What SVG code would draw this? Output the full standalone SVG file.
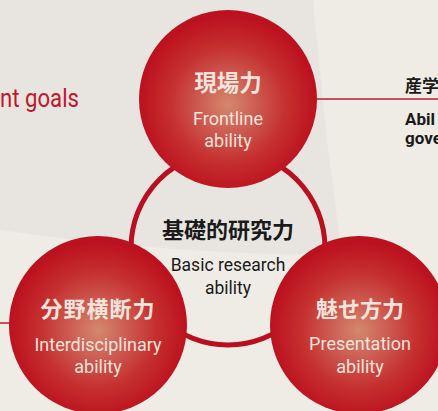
<svg xmlns="http://www.w3.org/2000/svg" width="438" height="411" viewBox="0 0 438 411">
  <defs>
    <radialGradient id="ball" cx="0.5" cy="0.53" r="0.5">
      <stop offset="0" stop-color="#d4886c"/>
      <stop offset="0.3" stop-color="#cd5f55"/>
      <stop offset="0.65" stop-color="#c5302f"/>
      <stop offset="1" stop-color="#bc111f"/>
    </radialGradient>
  </defs>
  <style>
    .ball { fill: url(#ball); }
    .jp { font-family: "Noto Sans CJK JP", "Noto Sans", sans-serif; font-weight: 700; text-anchor: middle; }
    .en { font-family: Roboto, "Liberation Sans", sans-serif; text-anchor: middle; }
    .w { fill: #f4e4dc; }
    .k { fill: #1a1a1a; }
    .rline { stroke: #b8202e; stroke-width: 1.5; fill: none; }
  </style>
  <rect x="0" y="0" width="438" height="411" fill="#efece6"/>
  <path d="M0,0 L313,0 L327,140 L342,255 Q170,255 0,230 Z" fill="#e8e5e1"/>

  <g id="connectors">
    <line class="rline" x1="300" y1="99" x2="438" y2="99"/>
    <line class="rline" x1="0" y1="323" x2="20" y2="323"/>
    <circle cx="228" cy="248" r="97" fill="none" stroke="#b9101f" stroke-width="5"/>
  </g>

  <g id="left-text">
    <text x="0" y="107" font-family="Roboto, 'Liberation Sans', sans-serif" font-size="26" fill="#c0172d" textLength="79" lengthAdjust="spacingAndGlyphs">nt goals</text>
  </g>

  <g id="right-text">
    <text x="405" y="92" class="k" font-family="'Noto Sans CJK JP', sans-serif" font-weight="700" font-size="17">産学</text>
    <text x="405" y="125" class="k" font-family="Roboto, 'Liberation Sans', sans-serif" font-weight="700" font-size="17">Abil</text>
    <text x="405" y="144" class="k" font-family="Roboto, 'Liberation Sans', sans-serif" font-weight="700" font-size="17">gove</text>
  </g>

  <g id="basic">
    <text x="228" y="238" class="jp k" font-size="22">基礎的研究力</text>
    <text x="228" y="271" class="en k" font-size="17.5">Basic research</text>
    <text x="228" y="294" class="en k" font-size="17.5">ability</text>
  </g>

  <g id="frontline">
    <circle class="ball" cx="228" cy="99" r="89"/>
    <text x="228" y="91" class="jp w" font-size="22.5">現場力</text>
    <text x="228" y="125" class="en w" font-size="18">Frontline</text>
    <text x="228" y="147" class="en w" font-size="18">ability</text>
  </g>

  <g id="interdisciplinary">
    <circle class="ball" cx="98" cy="325" r="89"/>
    <text x="98" y="317" class="jp w" font-size="22" letter-spacing="1">分野横断力</text>
    <text x="98" y="351" class="en w" font-size="18">Interdisciplinary</text>
    <text x="98" y="373" class="en w" font-size="18">ability</text>
  </g>

  <g id="presentation">
    <circle class="ball" cx="359" cy="325" r="89"/>
    <text x="360" y="317" class="jp w" font-size="22">魅せ方力</text>
    <text x="360" y="350" class="en w" font-size="18">Presentation</text>
    <text x="360" y="373" class="en w" font-size="18">ability</text>
  </g>
</svg>
